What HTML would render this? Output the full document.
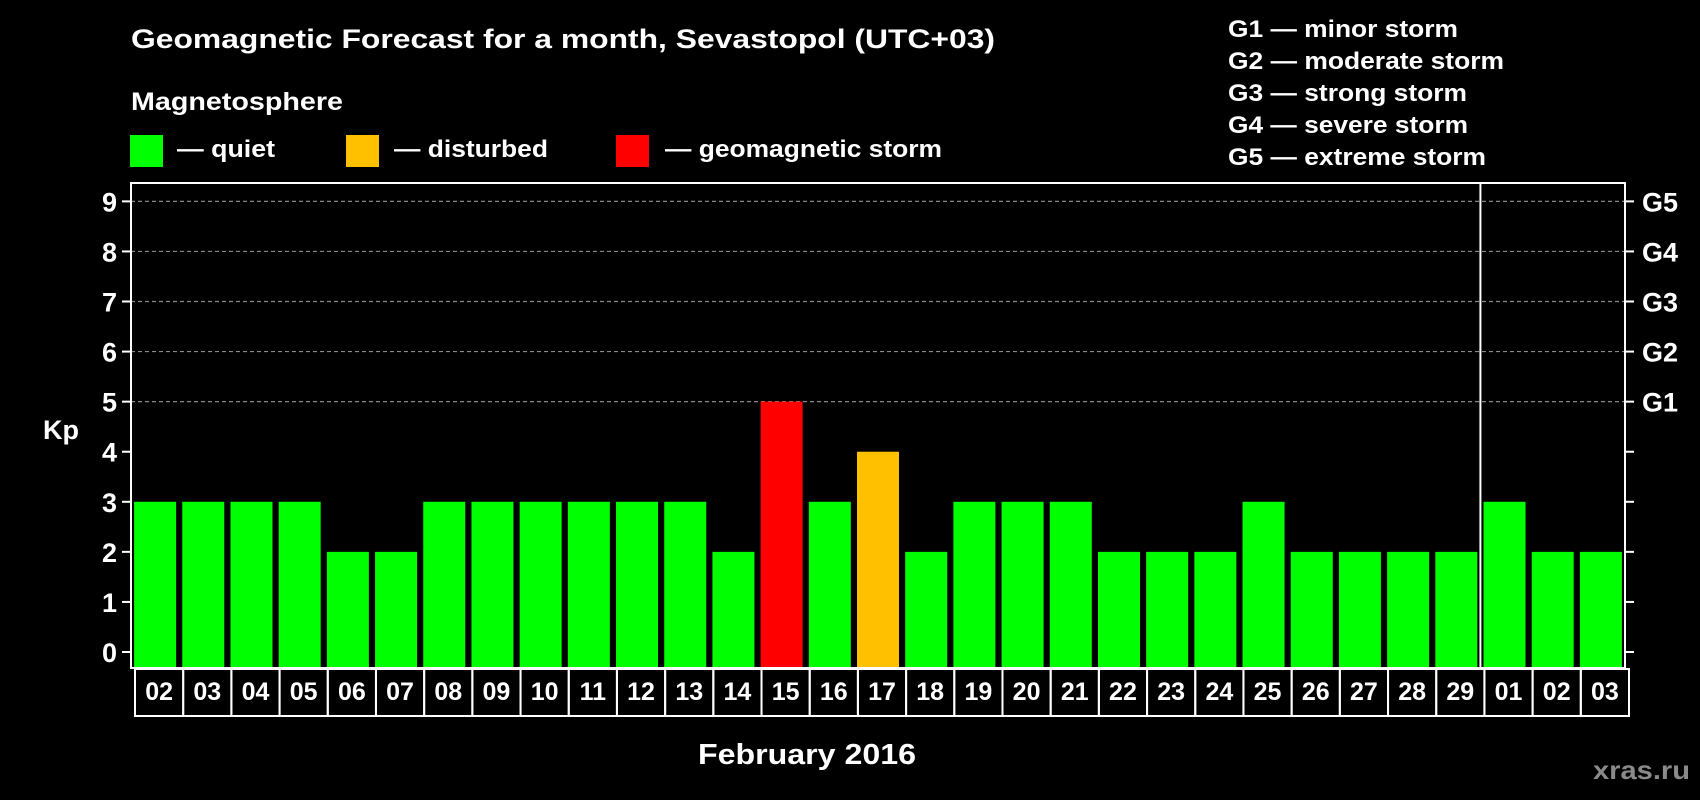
<!DOCTYPE html>
<html><head><meta charset="utf-8"><style>
html,body{margin:0;padding:0;background:#000;}
svg{display:block;font-family:"Liberation Sans",Arial,sans-serif;font-weight:bold;}
</style></head><body>
<svg id="chart" width="1700" height="800" viewBox="0 0 1700 800">
<rect x="0" y="0" width="1700" height="800" fill="#000"/>
<text x="131" y="48" font-size="27" fill="#fff" textLength="864" lengthAdjust="spacingAndGlyphs">Geomagnetic Forecast for a month, Sevastopol (UTC+03)</text>
<text x="131" y="110" font-size="25" fill="#fff" textLength="212" lengthAdjust="spacingAndGlyphs">Magnetosphere</text>
<g><rect x="130" y="135" width="33" height="32" fill="#00ff00"/><text x="177" y="157" font-size="24" fill="#fff" textLength="98" lengthAdjust="spacingAndGlyphs">— quiet</text></g>
<g><rect x="346" y="135" width="33" height="32" fill="#ffc000"/><text x="394" y="157" font-size="24" fill="#fff" textLength="154" lengthAdjust="spacingAndGlyphs">— disturbed</text></g>
<g><rect x="616" y="135" width="33" height="32" fill="#ff0000"/><text x="665" y="157" font-size="24" fill="#fff" textLength="277" lengthAdjust="spacingAndGlyphs">— geomagnetic storm</text></g>
<g font-size="24" fill="#fff">
<text x="1228" y="37" textLength="230" lengthAdjust="spacingAndGlyphs">G1 — minor storm</text>
<text x="1228" y="69" textLength="276" lengthAdjust="spacingAndGlyphs">G2 — moderate storm</text>
<text x="1228" y="101" textLength="239" lengthAdjust="spacingAndGlyphs">G3 — strong storm</text>
<text x="1228" y="133" textLength="240" lengthAdjust="spacingAndGlyphs">G4 — severe storm</text>
<text x="1228" y="165" textLength="258" lengthAdjust="spacingAndGlyphs">G5 — extreme storm</text>
</g>
<g id="plot"></g>
<text x="43" y="439" font-size="27" fill="#fff">Kp</text>
<text x="698" y="764" font-size="29" fill="#fff" textLength="218" lengthAdjust="spacingAndGlyphs">February 2016</text>
<text x="1593" y="779" font-size="26" fill="#8a8a8a" textLength="97" lengthAdjust="spacingAndGlyphs">xras.ru</text>
</svg>
<script>
const days = ["02","03","04","05","06","07","08","09","10","11","12","13","14","15","16","17","18","19","20","21","22","23","24","25","26","27","28","29","01","02","03"];
const kpValues = [3,3,3,3,2,2,3,3,3,3,3,3,2,5,3,4,2,3,3,3,2,2,2,3,2,2,2,2,3,2,2];
const yTicks = [0,1,2,3,4,5,6,7,8,9];
const gLabels = ["G1","G2","G3","G4","G5"];
const monthBreakIndex = 28;

const NS="http://www.w3.org/2000/svg";
const g=document.getElementById('plot');
const L=131,R=1625,T=183,B=668,BOXB=716;
const slot=(R-L)/days.length;
const xs=i=>L+slot*i;
const ys=v=>652-v*50.07;
function mk(t,a,parent){const e=document.createElementNS(NS,t);for(const k in a)e.setAttribute(k,a[k]);(parent||g).appendChild(e);return e;}
// gridlines
yTicks.forEach(v=>{
  if(v>=5){const l=mk('line',{x1:L,x2:R,y1:ys(v),y2:ys(v),stroke:'#888','stroke-width':1.2,'stroke-dasharray':'4,3'});
  
  }
  const tl=mk('line',{x1:L-9,x2:L,y1:ys(v),y2:ys(v),stroke:'#fff','stroke-width':2});
  
  
  const tr=mk('line',{x1:R,x2:R+9,y1:ys(v),y2:ys(v),stroke:'#fff','stroke-width':2});
  
  
  const t=mk('text',{x:117,y:ys(v)+10,'font-size':27,fill:'#fff','text-anchor':'end'});
  t.textContent=v;
  
  
});
gLabels.forEach((s,i)=>{
  const t=mk('text',{x:1642,y:ys(5+i)+10,'font-size':27,fill:'#fff'});
  t.textContent=s;
  
  
});
// bars
kpValues.forEach((v,i)=>{
  const c=v>=5?'#ff0000':(v>=4?'#ffc000':'#00ff00');
  const r=mk('rect',{x:xs(i)+(slot-42)/2,y:ys(v),width:42,height:B-ys(v),fill:c});
  
  
  const box=mk('rect',{x:xs(i)+4,y:B+1,width:slot,height:BOXB-B-1,fill:'none',stroke:'#fff','stroke-width':2});
  
  
  const t=mk('text',{x:xs(i)+4+slot/2,y:700,'font-size':25,fill:'#fff','text-anchor':'middle'});
  t.textContent=days[i];
  
  
});
const sep=mk('line',{x1:xs(monthBreakIndex),x2:xs(monthBreakIndex),y1:T,y2:B,stroke:'#fff','stroke-width':2});


const fr=mk('rect',{x:L,y:T,width:R-L,height:B-T,fill:'none',stroke:'#fff','stroke-width':2});


</script>
</body></html>
